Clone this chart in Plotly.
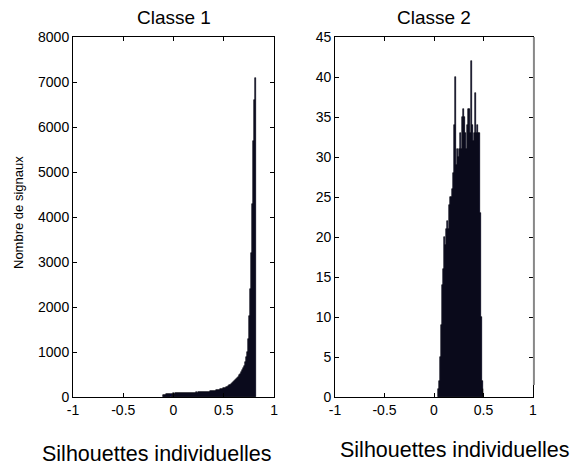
import plotly.graph_objects as go
from plotly.subplots import make_subplots

# ---- data: Classe 1 (bin centers, counts) ----
c1_centers = [round(-0.095 + 0.01 * i, 3) for i in range(92)]
c1_counts = [
    40, 50, 55, 60, 60, 65, 70, 70, 75, 80,
    75, 80, 78, 82, 80, 85, 82, 85, 88, 86,
    88, 90, 88, 92, 90, 94, 92, 95, 94, 96,
    98, 100, 102, 100, 104, 106, 105, 108, 110, 112,
    112, 115, 116, 118, 120, 122, 125, 128, 130, 134,
    138, 142, 146, 150, 156, 162, 168, 175, 182, 190,
    198, 208, 218, 230, 242, 256, 270, 286, 304, 324,
    345, 368, 392, 418, 446, 478, 512, 550, 595, 645,
    700, 780, 880, 1000, 1300, 1800, 2400, 3200, 4300, 5700,
    6600, 7100,
]

# ---- data: Classe 2 ----
c2_centers = [round(0.045 + 0.01 * i, 3) for i in range(46)]
c2_counts = [
    1, 2, 5, 9, 14, 16, 20, 19, 21, 22,
    21, 24, 25, 25, 26, 28, 34, 40, 29, 31,
    30, 31, 33, 31, 35, 36, 35, 33, 31, 34,
    36, 36, 33, 42, 34, 32, 33, 38, 33, 34,
    33, 33, 23, 10, 2, 1,
]

titles = ["Classe 1", "Classe 2"]
xlabel = "Silhouettes individuelles"
ylabel = "Nombre de signaux"
x_ticks = [-1, -0.5, 0, 0.5, 1]
y1_ticks = [0, 1000, 2000, 3000, 4000, 5000, 6000, 7000, 8000]
y2_ticks = [0, 5, 10, 15, 20, 25, 30, 35, 40, 45]

FONT = "Liberation Sans, Arial, sans-serif"

fig = make_subplots(rows=1, cols=2, horizontal_spacing=0.1323)

bar_style = dict(marker=dict(color="#000040", line=dict(color="black", width=0.6)),
                 width=0.01, showlegend=False, hoverinfo="x+y")
fig.add_trace(go.Bar(x=c1_centers, y=c1_counts, **bar_style), row=1, col=1)
fig.add_trace(go.Bar(x=c2_centers, y=c2_counts, **bar_style), row=1, col=2)

axis_common = dict(showline=True, linecolor="black", linewidth=1, mirror="ticks",
                   ticks="inside", ticklen=4, tickcolor="black", showgrid=False,
                   zeroline=False, tickfont=dict(family=FONT, size=14, color="black"))

fig.update_xaxes(range=[-1, 1], tickvals=x_ticks, ticktext=["-1", "-0.5", "0", "0.5", "1"],
                 **axis_common)
fig.update_yaxes(range=[0, 8000], tickvals=y1_ticks, **axis_common, row=1, col=1)
fig.update_yaxes(range=[0, 45], tickvals=y2_ticks, **axis_common, row=1, col=2)

fig.update_layout(
    width=587, height=467,
    margin=dict(l=73, r=54, t=37, b=70),
    plot_bgcolor="white", paper_bgcolor="white",
    bargap=0,
    font=dict(family=FONT, color="black"),
    xaxis=dict(domain=[0, 0.437]),
    xaxis2=dict(domain=[0.5696, 1]),
)

annotations = [
    dict(text=titles[0], x=174, y=18, font=dict(size=19)),
    dict(text=titles[1], x=434, y=18, font=dict(size=19)),
    dict(text=xlabel, x=156, y=454, font=dict(size=21.5)),
    dict(text=xlabel, x=454, y=450, font=dict(size=21.5)),
]
for a in annotations:
    fig.add_annotation(text=a["text"], xref="paper", yref="paper",
                       x=(a["x"] - 73) / 460, y=(397 - a["y"]) / 360,
                       showarrow=False, xanchor="center", yanchor="middle",
                       font=dict(family=FONT, color="black", **a["font"]))
fig.add_annotation(text=ylabel, xref="paper", yref="paper",
                   x=(18 - 73) / 460, y=(397 - 213) / 360, textangle=-90,
                   showarrow=False, xanchor="center", yanchor="middle",
                   font=dict(family=FONT, size=13, color="black"))

# grey edge line seen at the right border of the second panel
fig.add_shape(type="line", xref="paper", yref="paper", x0=1.002, x1=1.002,
              y0=(397 - 385) / 360, y1=1, line=dict(color="#888888", width=2))

fig.write_html(
    "out.html",
    config={"displayModeBar": False},
    post_script="document.body.style.margin='0';document.body.style.overflow='hidden';",
)
